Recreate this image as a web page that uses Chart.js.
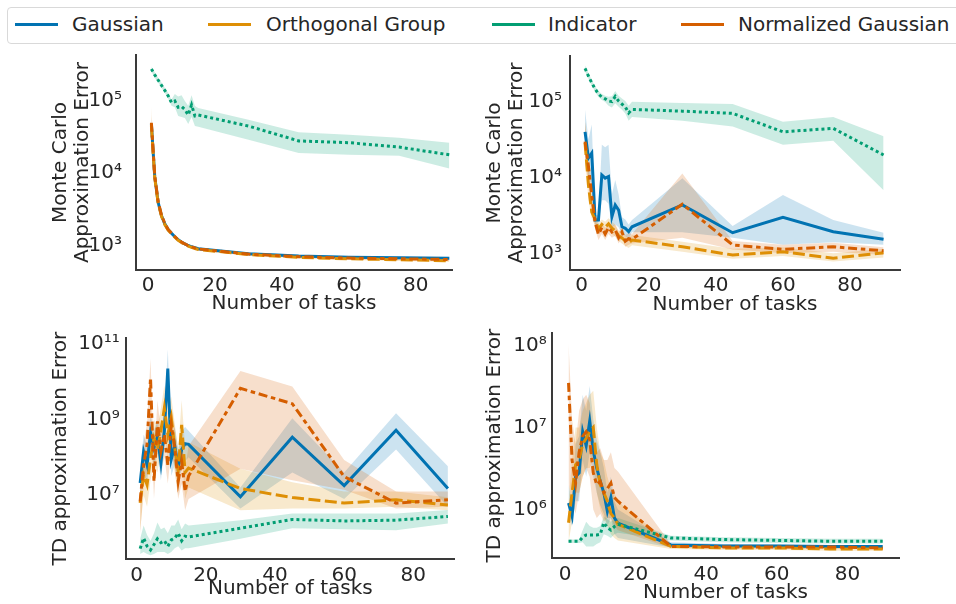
<!DOCTYPE html>
<html>
<head>
<meta charset="utf-8">
<script src="https://cdn.jsdelivr.net/npm/chart.js@4.4.1/dist/chart.umd.min.js"></script>
<style>
html,body{margin:0;padding:0;background:#fff;}
body{width:956px;height:604px;position:relative;overflow:hidden;font-family:'DejaVu Sans',sans-serif;}
canvas{position:absolute;left:0;top:0;}
#legend{position:absolute;left:7px;top:7px;width:990px;height:35px;border:1px solid #d9d9d9;border-radius:4px;background:#fff;z-index:5;}
.handle{position:absolute;top:15px;height:3px;width:43px;}
.lab{position:absolute;top:0;height:33px;line-height:33px;font-size:20px;color:#262626;white-space:nowrap;}
</style>
</head>
<body>
<div id="legend">
  <div class="handle" style="left:7px;background:#0173b2"></div><div class="lab" style="left:64px">Gaussian</div>
  <div class="handle" style="left:200px;background:#de8f05"></div><div class="lab" style="left:258px">Orthogonal Group</div>
  <div class="handle" style="left:484px;background:#029e73"></div><div class="lab" style="left:540px">Indicator</div>
  <div class="handle" style="left:673px;background:#d55e00"></div><div class="lab" style="left:730px">Normalized Gaussian</div>
</div>
<canvas id="cTL" width="956" height="604"></canvas>
<canvas id="cTR" width="956" height="604"></canvas>
<canvas id="cBL" width="956" height="604"></canvas>
<canvas id="cBR" width="956" height="604"></canvas>
<script>
// ---------------- data ----------------
const tasks = [1,2,3,4,5,6,7,8,9,10,11,12,13,14,15,30,45,60,75,90];
const xTickValues = [0,20,40,60,80];
const mcTicks = [1e3,1e4,1e5];
const tdLeftTicks = [1e7,1e9,1e11];
const tdRightTicks = [1e6,1e7,1e8];

// Top-left: Monte Carlo approximation error
const mcL_gauss   = [4.8e4,8.9e3,4.0e3,2.6e3,2.0e3,1.66e3,1.48e3,1.32e3,1.2e3,1.12e3,1050,1000,960,930,900,770,715,690,675,665];
const mcL_gaussLo = [3.9e4,8.0e3,3.7e3,2.45e3,1.9e3,1.58e3,1.42e3,1.27e3,1.15e3,1.08e3,1010,960,925,895,865,740,690,665,650,640];
const mcL_gaussHi = [5.9e4,9.8e3,4.3e3,2.75e3,2.1e3,1.74e3,1.54e3,1.37e3,1.25e3,1.16e3,1090,1040,995,965,935,800,740,715,700,690];
const mcL_orth    = [4.6e4,8.6e3,3.9e3,2.55e3,1.95e3,1.63e3,1.45e3,1.3e3,1.18e3,1.1e3,1030,980,940,910,880,750,685,655,635,615];
const mcL_orthLo  = [3.2e4,7.6e3,3.6e3,2.4e3,1.85e3,1.55e3,1.39e3,1.25e3,1.13e3,1.06e3,990,940,905,875,845,720,660,630,610,590];
const mcL_orthHi  = [8.3e4,9.8e3,4.2e3,2.7e3,2.05e3,1.71e3,1.51e3,1.35e3,1.23e3,1.14e3,1070,1020,975,945,915,780,710,680,660,640];
const mcL_ind     = [2.77e5,2.3e5,1.95e5,1.65e5,1.4e5,1.18e5,9.5e4,1.0e5,8.2e4,8.4e4,7.6e4,6.4e4,8.8e4,6.2e4,6.4e4,4.5e4,2.8e4,2.65e4,2.3e4,1.8e4];
const mcL_indLo   = [2.55e5,2.1e5,1.8e5,1.52e5,1.3e5,1.07e5,8.6e4,8.2e4,6.2e4,6.0e4,5.8e4,4.8e4,6.0e4,4.5e4,4.4e4,2.9e4,1.9e4,1.8e4,1.74e4,1.16e4];
const mcL_indHi   = [3.0e5,2.5e5,2.1e5,1.8e5,1.52e5,1.3e5,1.05e5,1.25e5,1.15e5,1.2e5,1.0e5,8.6e4,1.2e5,8.5e4,8.0e4,5.5e4,3.7e4,3.4e4,3.1e4,2.65e4];
const mcL_norm    = [5.0e4,9.2e3,4.1e3,2.65e3,2.02e3,1.67e3,1.49e3,1.33e3,1.2e3,1.12e3,1050,1000,960,925,895,760,700,670,655,640];
const mcL_normLo  = [3.8e4,8.2e3,3.8e3,2.5e3,1.92e3,1.59e3,1.43e3,1.28e3,1.15e3,1.08e3,1010,960,925,890,860,730,675,645,630,615];
const mcL_normHi  = [6.5e4,1.03e4,4.4e3,2.8e3,2.12e3,1.75e3,1.55e3,1.38e3,1.25e3,1.16e3,1090,1040,995,960,930,790,725,695,680,665];

// Top-right: Monte Carlo approximation error
const mcR_gauss   = [4.0e4,1.8e4,2.1e4,2.75e3,2.75e3,1.08e4,9.8e3,1.03e4,3.04e3,4.34e3,3.72e3,2.24e3,2.14e3,1.93e3,2.24e3,4.34e3,1.87e3,2.99e3,1.93e3,1.53e3];
const mcR_gaussLo = [2.2e4,1.0e4,8.0e3,2.4e3,2.4e3,5.0e3,5.0e3,4.5e3,2.2e3,2.4e3,2.2e3,1.8e3,1.7e3,1.55e3,1.9e3,1.9e3,1.6e3,1.3e3,1.4e3,1.3e3];
const mcR_gaussHi = [7.8e4,3.2e4,5.0e4,3.2e3,3.2e3,2.7e4,2.5e4,2.7e4,6.0e3,9.3e3,6.0e3,3.0e3,2.8e3,2.4e3,2.75e3,9.8e3,2.3e3,5.9e3,2.75e3,1.87e3];
const mcR_orth    = [2.85e4,8.0e3,3.5e3,2.8e3,2.1e3,2.4e3,2.2e3,2.45e3,2.15e3,1.97e3,1.7e3,1.6e3,1.45e3,1.38e3,1.5e3,1.22e3,950,1050,860,1020];
const mcR_orthLo  = [1.8e4,5.0e3,2.9e3,2.3e3,1.8e3,2.1e3,1.9e3,2.1e3,1.8e3,1.65e3,1.45e3,1.35e3,1.25e3,1.18e3,1.28e3,1.05e3,850,920,780,880];
const mcR_orthHi  = [5.4e4,1.4e4,4.5e3,3.3e3,2.5e3,2.8e3,2.6e3,2.9e3,2.6e3,2.4e3,2.0e3,1.9e3,1.7e3,1.6e3,1.75e3,1.42e3,1150,1200,1000,1150];
const mcR_ind     = [2.74e5,2.18e5,1.77e5,1.47e5,1.26e5,1.15e5,1.09e5,1.02e5,1.0e5,1.17e5,1.02e5,9.3e4,8.5e4,7.1e4,7.9e4,7.5e4,7.0e4,4.0e4,4.45e4,1.98e4];
const mcR_indLo   = [2.5e5,2.0e5,1.62e5,1.35e5,1.15e5,1.05e5,9.9e4,8.8e4,8.4e4,9.5e4,8.6e4,7.8e4,7.0e4,5.6e4,6.3e4,5.6e4,4.7e4,2.7e4,3.05e4,6.8e3];
const mcR_indHi   = [3.0e5,2.4e5,1.93e5,1.6e5,1.38e5,1.26e5,1.2e5,1.16e5,1.18e5,1.38e5,1.2e5,1.1e5,1.02e5,8.8e4,1.0e5,9.6e4,9.3e4,5.45e4,6.3e4,3.5e4];
const mcR_norm    = [2.97e4,1.42e4,5.7e3,2.54e3,1.78e3,2.18e3,1.8e3,2.18e3,1.91e3,2.03e3,1.61e3,1.91e3,1.45e3,1.56e3,1.53e3,4.45e3,1.29e3,1.13e3,1.22e3,1.08e3];
const mcR_normLo  = [1.7e4,8.0e3,4.0e3,2.1e3,1.5e3,1.8e3,1.5e3,1.8e3,1.6e3,1.7e3,1.35e3,1.6e3,1.22e3,1.3e3,1.35e3,1.6e3,1.12e3,1.0e3,1.05e3,950];
const mcR_normHi  = [5.5e4,2.2e4,8.0e3,3.0e3,2.1e3,2.6e3,2.15e3,2.6e3,2.3e3,2.4e3,1.9e3,2.3e3,1.75e3,1.85e3,1.8e3,1.13e4,1.45e3,1.3e3,1.38e3,1.2e3];

// Bottom-left: TD approximation error
const tdL_gauss   = [2.1e7,1.4e8,6.3e7,4.5e8,1.8e8,3.5e8,7.1e7,5.0e8,2.2e10,8.9e7,2.0e8,5.6e7,1.6e8,2.3e8,2.2e8,9.1e6,3.4e8,1.8e7,5.2e8,1.5e7];
const tdL_gaussLo = [7.9e6,4.0e7,2.0e7,1.6e8,6.3e7,1.26e8,2.5e7,1.6e8,4.0e9,3.2e7,6.3e7,2.0e7,5.0e7,7.9e7,1.0e8,4.5e6,4.0e7,7.9e6,1.6e8,5.0e6];
const tdL_gaussHi = [5.0e7,4.0e8,2.0e8,1.26e9,5.0e8,1.0e9,2.0e8,1.6e9,7.1e10,2.5e8,6.3e8,1.6e8,5.0e8,6.3e8,5.0e8,1.6e7,1.07e9,4.0e7,1.45e9,5.8e7];
const tdL_orth    = [6.3e6,3.5e7,1.9e7,9.5e7,3.2e8,1.6e8,5.0e8,2.0e9,4.0e8,1.1e9,1.8e8,4.3e7,7.2e8,4.0e7,5.2e7,1.5e7,8.7e6,6.2e6,7.6e6,5.5e6];
const tdL_orthLo  = [1.1e6,1.0e7,5.0e6,2.5e7,7.9e7,4.0e7,1.26e8,4.0e8,1.0e8,2.5e8,4.0e7,1.0e7,1.26e8,7.9e6,1.6e7,4.0e6,4.5e6,4.5e6,5.0e6,4.0e6];
const tdL_orthHi  = [2.0e7,1.26e8,6.3e7,3.2e8,1.0e9,6.3e8,2.0e9,7.9e9,1.6e9,4.0e9,7.9e8,1.6e8,3.2e9,2.0e8,2.5e8,5.0e7,2.2e7,1.26e7,1.26e7,8.9e6];
const tdL_ind     = [3.9e5,7.4e5,4.5e5,3.6e5,5.0e5,7.1e5,5.6e5,6.3e5,4.5e5,6.6e5,7.4e5,1.0e6,6.3e5,8.3e5,7.9e5,1.35e6,2.3e6,2.1e6,2.2e6,2.75e6];
const tdL_indLo   = [2.8e5,3.2e5,2.8e5,2.6e5,2.8e5,3.2e5,3.2e5,3.2e5,2.8e5,3.2e5,4.0e5,4.5e5,3.5e5,4.0e5,4.0e5,7.1e5,1.35e6,1.26e6,1.2e6,1.8e6];
const tdL_indHi   = [7.1e5,1.6e6,8.9e5,6.3e5,1.0e6,1.9e6,1.26e6,1.4e6,1.0e6,1.6e6,1.6e6,2.3e6,1.26e6,1.8e6,1.6e6,2.2e6,3.3e6,3.3e6,3.3e6,4.1e6];
const tdL_norm    = [6.9e6,6.3e7,2.2e8,1.26e10,2.3e7,8.9e8,1.45e8,4.0e8,6.3e7,7.2e8,1.8e8,2.3e7,7.9e7,1.26e7,3.2e7,6.6e9,2.6e9,3.1e7,6.2e6,7.6e6];
const tdL_normLo  = [1.0e6,1.6e7,4.0e7,1.0e9,7.9e6,2.0e8,4.0e7,1.0e8,2.0e7,1.6e8,5.0e7,7.9e6,2.0e7,4.0e6,7.9e6,5.0e7,2.5e7,1.4e7,4.5e6,5.0e6];
const tdL_normHi  = [2.5e7,2.5e8,7.9e8,4.0e10,7.9e7,3.2e9,5.0e8,1.26e9,2.0e8,2.0e9,6.3e8,7.9e7,3.2e8,5.0e7,2.0e8,1.9e10,7.4e9,8.5e7,1.26e7,1.26e7];

// Bottom-right: TD approximation error
const tdR_gauss   = [1.2e6,8.3e5,2.5e6,2.8e6,8.9e6,6.0e6,1.2e7,5.2e6,3.2e6,2.2e6,1.6e6,9.5e5,1.4e6,7.9e5,6.8e5,3.7e5,3.6e5,3.6e5,3.55e5,3.55e5];
const tdR_gaussLo = [7.9e5,6.3e5,1.26e6,1.26e6,4.0e6,2.5e6,5.0e6,2.5e6,1.6e6,1.12e6,8.9e5,6.3e5,7.9e5,5.0e5,4.5e5,3.45e5,3.45e5,3.4e5,3.4e5,3.4e5];
const tdR_gaussHi = [2.0e6,1.26e6,6.3e6,7.9e6,2.5e7,1.6e7,3.2e7,1.26e7,7.1e6,5.0e6,3.2e6,1.6e6,2.5e6,1.26e6,1.0e6,4.0e5,3.8e5,3.75e5,3.7e5,3.7e5];
const tdR_orth    = [6.9e5,1.6e6,3.5e6,4.0e6,6.3e6,7.4e6,8.9e6,1.0e7,3.5e6,2.0e6,1.6e6,1.26e6,8.9e5,7.9e5,6.6e5,3.55e5,3.4e5,3.4e5,3.3e5,3.3e5];
const tdR_orthLo  = [4.0e5,7.1e5,1.6e6,1.6e6,2.5e6,3.2e6,3.2e6,4.0e6,1.6e6,1.0e6,7.9e5,6.3e5,5.0e5,4.5e5,4.2e5,3.3e5,3.2e5,3.2e5,3.15e5,3.15e5];
const tdR_orthHi  = [1.26e6,4.0e6,1.0e7,1.0e7,1.6e7,2.0e7,2.5e7,2.8e7,1.0e7,5.0e6,4.0e6,2.5e6,1.8e6,1.6e6,1.26e6,3.8e5,3.6e5,3.6e5,3.5e5,3.5e5];
const tdR_ind     = [4.1e5,4.1e5,4.1e5,4.1e5,4.6e5,4.9e5,4.9e5,4.9e5,4.9e5,5.0e5,6.9e5,6.0e5,5.6e5,6.2e5,6.6e5,4.5e5,4.3e5,4.2e5,4.1e5,4.1e5];
const tdR_indLo   = [3.9e5,3.9e5,3.9e5,3.9e5,4.0e5,3.55e5,3.55e5,3.55e5,3.8e5,4.0e5,5.0e5,4.8e5,4.5e5,5.0e5,5.2e5,4.2e5,4.0e5,3.9e5,3.85e5,3.85e5];
const tdR_indHi   = [4.3e5,4.3e5,4.3e5,4.3e5,5.6e5,7.1e5,6.3e5,6.0e5,6.0e5,6.3e5,8.3e5,7.6e5,7.1e5,7.6e5,7.9e5,4.8e5,4.6e5,4.5e5,4.4e5,4.4e5];
const tdR_norm    = [3.5e7,4.0e6,2.1e6,5.0e6,7.8e6,8.9e6,7.1e6,2.8e6,2.0e6,2.2e6,1.6e6,1.8e6,2.1e6,1.4e6,1.26e6,3.55e5,3.5e5,3.5e5,3.5e5,3.4e5];
const tdR_normLo  = [2.0e6,1.26e6,8.9e5,1.6e6,2.5e6,3.2e6,2.5e6,1.0e6,7.9e5,8.9e5,7.1e5,7.9e5,7.9e5,6.3e5,5.6e5,3.4e5,3.35e5,3.3e5,3.3e5,3.3e5];
const tdR_normHi  = [1.07e8,1.26e7,6.3e6,1.6e7,2.2e7,2.5e7,2.0e7,7.9e6,5.0e6,5.6e6,4.0e6,4.0e6,5.0e6,3.2e6,2.9e6,3.8e5,3.7e5,3.65e5,3.65e5,3.6e5];

// ---------------- styles ----------------
const INK = '#262626';
const SPINE = '#3a3a3a';
const STYLE = {
  'Gaussian':            {color:'#0173b2', band:'rgba(1,115,178,0.2)',  dash:[],              lineOrder:3, bandOrder:13},
  'Orthogonal Group':    {color:'#de8f05', band:'rgba(222,143,5,0.2)',  dash:[12,4.5],        lineOrder:2, bandOrder:12},
  'Indicator':           {color:'#029e73', band:'rgba(2,158,115,0.2)',  dash:[3,3],           lineOrder:1, bandOrder:11},
  'Normalized Gaussian': {color:'#d55e00', band:'rgba(213,94,0,0.2)',   dash:[9,3.75,4.5,3.75], lineOrder:0, bandOrder:10}
};
Chart.defaults.font.family = "'DejaVu Sans', sans-serif";
Chart.defaults.color = INK;

const SUP = {'0':'\u2070','1':'\u00b9','2':'\u00b2','3':'\u00b3','4':'\u2074','5':'\u2075','6':'\u2076','7':'\u2077','8':'\u2078','9':'\u2079'};
function powLabel(v){
  const e = String(Math.round(Math.log10(v)));
  return '10' + e.split('').map(c => SUP[c]).join('');
}
function pts(arr){ return tasks.map((x,i) => ({x:x, y:arr[i]})); }

function buildDatasets(series){
  const ds = [];
  series.forEach(s => {
    const st = STYLE[s.name];
    ds.push({label:s.name, data:pts(s.mean), borderColor:st.color, borderWidth:3, borderDash:st.dash,
             borderCapStyle:'butt', borderJoinStyle:'miter', pointRadius:0, fill:false, tension:0, order:st.lineOrder});
  });
  series.forEach(s => {
    const st = STYLE[s.name];
    ds.push({label:s.name+' lower', data:pts(s.lo), borderColor:'rgba(0,0,0,0)', borderWidth:0,
             pointRadius:0, fill:false, tension:0, order:st.bandOrder});
    ds.push({label:s.name+' upper', data:pts(s.hi), borderColor:'rgba(0,0,0,0)', borderWidth:0,
             pointRadius:0, fill:'-1', backgroundColor:st.band, tension:0, order:st.bandOrder});
  });
  return ds;
}

function makePanel(id, L, series){
  const ctx = document.getElementById(id);
  new Chart(ctx, {
    type:'line',
    data:{datasets: buildDatasets(series)},
    options:{
      responsive:false, animation:false, devicePixelRatio:1,
      layout:{padding:{left:L.spineL - L.W, top:L.spineT, right:956 - L.spineR, bottom:604 - L.spineB - L.H}},
      plugins:{legend:{display:false}, tooltip:{enabled:false}},
      scales:{
        x:{type:'linear', min:L.xMin, max:L.xMax,
           afterBuildTicks: s => { s.ticks = xTickValues.map(v => ({value:v})); },
           afterFit: s => { s.height = L.H; },
           ticks:{autoSkip:false, maxRotation:0, padding:L.xTickPad, font:{size:20}, color:INK, callback: v => String(v)},
           grid:{display:false, drawTicks:false, tickLength:0},
           border:{display:true, color:SPINE, width:2},
           title:{display:true, text:'Number of tasks', color:INK, font:{size:20, lineHeight:1.1}, padding:{top:0, bottom:L.xTitlePad}}
        },
        y:{type:'logarithmic', min:L.yMin, max:L.yMax,
           afterBuildTicks: s => { s.ticks = L.yTicks.map(v => ({value:v})); },
           afterFit: s => { s.width = L.W; },
           ticks:{autoSkip:false, padding:L.yTickPad, font:{size:20}, color:INK, callback: v => powLabel(v)},
           grid:{display:false, drawTicks:false, tickLength:0},
           border:{display:true, color:SPINE, width:2},
           title:{display:true, text:L.yTitle, color:INK, font:{size:20, lineHeight:1.1}, padding:{top:L.yTitlePad, bottom:0}}
        }
      }
    }
  });
}

makePanel('cTL', {spineL:136, spineT:55, spineR:452, spineB:270, W:96, H:50, xMin:-3.6, xMax:90.8,
  yMin:458, yMax:4.33e5, yTicks:mcTicks, yTitle:['Monte Carlo','Approximation Error'], yTitlePad:10, yTickPad:14, xTickPad:4, xTitlePad:5}, [
  {name:'Gaussian', mean:mcL_gauss, lo:mcL_gaussLo, hi:mcL_gaussHi},
  {name:'Orthogonal Group', mean:mcL_orth, lo:mcL_orthLo, hi:mcL_orthHi},
  {name:'Indicator', mean:mcL_ind, lo:mcL_indLo, hi:mcL_indHi},
  {name:'Normalized Gaussian', mean:mcL_norm, lo:mcL_normLo, hi:mcL_normHi}
]);
makePanel('cTR', {spineL:570, spineT:56, spineR:900, spineB:270, W:90, H:50, xMin:-3.49, xMax:94.9,
  yMin:603, yMax:4.0e5, yTicks:mcTicks, yTitle:['Monte Carlo','Approximation Error'], yTitlePad:4, yTickPad:8, xTickPad:4, xTitlePad:4}, [
  {name:'Gaussian', mean:mcR_gauss, lo:mcR_gaussLo, hi:mcR_gaussHi},
  {name:'Orthogonal Group', mean:mcR_orth, lo:mcR_orthLo, hi:mcR_orthHi},
  {name:'Indicator', mean:mcR_ind, lo:mcR_indLo, hi:mcR_indHi},
  {name:'Normalized Gaussian', mean:mcR_norm, lo:mcR_normLo, hi:mcR_normHi}
]);
makePanel('cBL', {spineL:125.7, spineT:338, spineR:455, spineB:559.3, W:85.7, H:44.7, xMin:-3.18, xMax:92.05,
  yMin:2.04e5, yMax:1.41e11, yTicks:tdLeftTicks, yTitle:'TD approximation Error', yTitlePad:9.8, yTickPad:6, xTickPad:4, xTitlePad:4}, [
  {name:'Gaussian', mean:tdL_gauss, lo:tdL_gaussLo, hi:tdL_gaussHi},
  {name:'Orthogonal Group', mean:tdL_orth, lo:tdL_orthLo, hi:tdL_orthHi},
  {name:'Indicator', mean:tdL_ind, lo:tdL_indLo, hi:tdL_indHi},
  {name:'Normalized Gaussian', mean:tdL_norm, lo:tdL_normLo, hi:tdL_normHi}
]);
makePanel('cBR', {spineL:551.7, spineT:333, spineR:899.3, spineB:558.3, W:71.7, H:45.7, xMin:-3.77, xMax:94.7,
  yMin:2.54e5, yMax:1.42e8, yTicks:tdRightTicks, yTitle:'TD approximation Error', yTitlePad:4, yTickPad:5, xTickPad:4, xTitlePad:0}, [
  {name:'Gaussian', mean:tdR_gauss, lo:tdR_gaussLo, hi:tdR_gaussHi},
  {name:'Orthogonal Group', mean:tdR_orth, lo:tdR_orthLo, hi:tdR_orthHi},
  {name:'Indicator', mean:tdR_ind, lo:tdR_indLo, hi:tdR_indHi},
  {name:'Normalized Gaussian', mean:tdR_norm, lo:tdR_normLo, hi:tdR_normHi}
]);
</script>
</body>
</html>
